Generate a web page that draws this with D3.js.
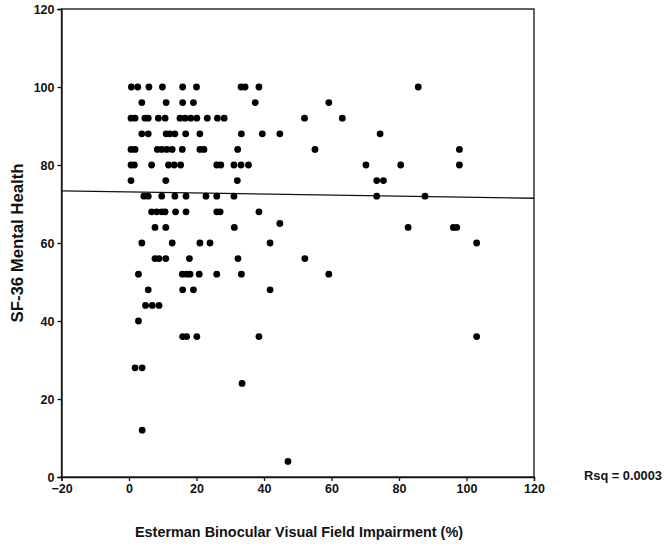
<!DOCTYPE html>
<html>
<head>
<meta charset="utf-8">
<script src="https://cdn.jsdelivr.net/npm/d3@7"></script>
<style>
  html, body { margin: 0; padding: 0; background: #fff; }
  svg text { font-family: "Liberation Sans", Arial, Helvetica, sans-serif; font-weight: bold; fill: #111; }
</style>
</head>
<body>
<svg id="chart" width="666" height="546"></svg>
<script>
// ---- data ----
const scoreLevels = [100, 96, 92, 88, 84, 80, 76, 72, 68, 65, 64, 60, 56, 52, 48, 44, 40, 36, 28, 24, 12, 4];
const impairmentAtScore = [
  [0.7, 2.6, 5.9, 9.9, 15.9, 20.0, 33.2, 34.4, 38.5, 85.7],
  [3.8, 11.0, 15.9, 19.1, 37.4, 59.2],
  [0.6, 1.8, 4.7, 5.7, 8.7, 10.7, 15.1, 16.6, 18.3, 20.1, 23.2, 26.2, 28.2, 52.0, 63.2],
  [3.8, 5.7, 11.0, 12.1, 13.6, 16.8, 21.0, 33.3, 39.5, 44.7, 74.4],
  [0.6, 1.8, 8.4, 9.7, 11.2, 12.8, 15.8, 21.0, 22.2, 32.2, 55.1, 97.9],
  [0.6, 1.6, 6.7, 11.7, 13.4, 15.3, 26.0, 27.2, 31.1, 33.2, 35.4, 70.2, 80.5, 97.9],
  [0.6, 10.9, 32.1, 73.4, 75.4],
  [4.4, 5.7, 9.7, 13.6, 16.9, 22.8, 26.0, 31.1, 73.4, 87.7],
  [6.7, 8.2, 9.7, 10.7, 13.8, 16.9, 26.0, 27.0, 38.5],
  [44.7],
  [7.7, 10.9, 31.2, 82.7, 96.1, 97.1],
  [3.8, 12.8, 21.0, 24.0, 41.8, 103.0],
  [7.7, 8.9, 10.9, 17.9, 32.3, 52.1],
  [2.8, 15.8, 17.1, 18.1, 20.8, 26.0, 33.3, 59.2],
  [5.7, 15.9, 19.1, 41.8],
  [4.9, 6.9, 8.9],
  [2.8],
  [15.9, 17.1, 20.1, 38.5, 103.0],
  [1.8, 3.9],
  [33.5],
  [3.9],
  [47.1]
];
const xTicks = [-20, 0, 20, 40, 60, 80, 100, 120];
const yTicks = [0, 20, 40, 60, 80, 100, 120];
const xDomain = [-20, 120];
const yDomain = [0, 120];
const fitIntercept = 73.1;
const fitSlope = -0.0136;
const rsqLabel = "Rsq = 0.0003";
const xTitle = "Esterman Binocular Visual Field Impairment (%)";
const yTitle = "SF-36 Mental Health";

const points = [];
scoreLevels.forEach((s, i) => impairmentAtScore[i].forEach(v => points.push({x: v, y: s})));

// ---- layout ----
const svg = d3.select("#chart");
const mLeft = 61.5, mRight = 534, mTop = 9, mBottom = 477;
const x = d3.scaleLinear().domain(xDomain).range([mLeft, mRight]);
const y = d3.scaleLinear().domain(yDomain).range([mBottom, mTop]);

// frame
svg.append("rect")
  .attr("x", mLeft).attr("y", mTop)
  .attr("width", mRight - mLeft).attr("height", mBottom - mTop)
  .attr("fill", "none").attr("stroke", "#111").attr("stroke-width", 1.3);

// axes
const xAxis = svg.append("g").attr("transform", `translate(0,${mBottom})`)
  .call(d3.axisBottom(x).tickValues(xTicks).tickSize(4).tickPadding(3).tickFormat(d3.format("d")));
const yAxis = svg.append("g").attr("transform", `translate(${mLeft},0)`)
  .call(d3.axisLeft(y).tickValues(yTicks).tickSize(4).tickPadding(3).tickFormat(d3.format("d")));
[xAxis, yAxis].forEach(g => {
  g.select(".domain").attr("stroke", "#111").attr("stroke-width", 1.3);
  g.selectAll(".tick line").attr("stroke", "#111").attr("stroke-width", 1.3);
  g.selectAll(".tick text").attr("font-size", 12.5).attr("fill", "#111")
    .attr("font-family", "Liberation Sans, Arial, sans-serif").attr("font-weight", "bold");
});

// regression line
svg.append("line")
  .attr("x1", x(xDomain[0])).attr("y1", y(fitIntercept + fitSlope * xDomain[0]))
  .attr("x2", x(xDomain[1])).attr("y2", y(fitIntercept + fitSlope * xDomain[1]))
  .attr("stroke", "#111").attr("stroke-width", 1.4);

// points
svg.append("g").selectAll("circle").data(points).join("circle")
  .attr("cx", d => x(d.x)).attr("cy", d => y(d.y))
  .attr("r", 3.4).attr("fill", "#000");

// titles
svg.append("text")
  .attr("transform", `translate(23,243) rotate(-90)`)
  .attr("text-anchor", "middle").attr("font-size", 16)
  .attr("textLength", 159).attr("lengthAdjust", "spacingAndGlyphs").text(yTitle);
svg.append("text")
  .attr("x", 299).attr("y", 537)
  .attr("text-anchor", "middle").attr("font-size", 15.5)
  .attr("textLength", 328).attr("lengthAdjust", "spacingAndGlyphs").text(xTitle);
svg.append("text")
  .attr("x", 584).attr("y", 480)
  .attr("font-size", 12.5)
  .attr("textLength", 78).attr("lengthAdjust", "spacingAndGlyphs").text(rsqLabel);
</script>
</body>
</html>
